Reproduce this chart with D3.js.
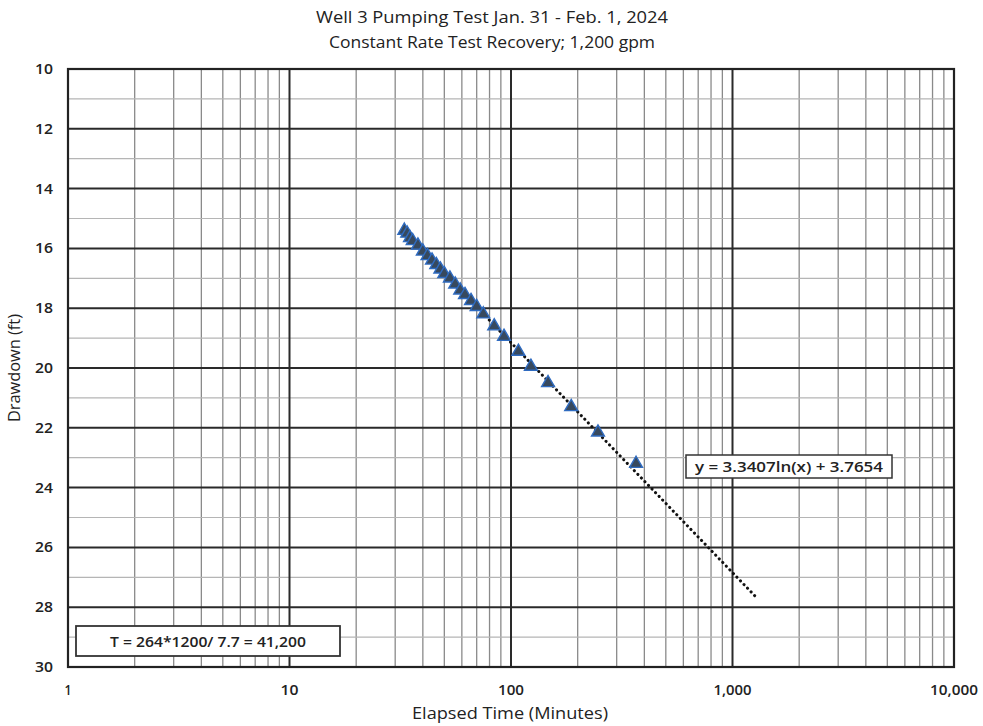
<!DOCTYPE html>
<html>
<head>
<meta charset="utf-8">
<script src="https://cdn.jsdelivr.net/npm/d3@7"></script>
<style>
  body { margin: 0; background: #fff; }
  text { font-family: "Open Sans", "Liberation Sans", sans-serif; fill: #222; }
</style>
</head>
<body>
<svg id="chart" width="983" height="726"></svg>
<script>
// recovery data, elapsed minutes vs drawdown (ft)
var times     = [33, 34, 35, 36, 38, 40, 42, 44, 46, 48, 50, 53, 56, 59, 62, 66, 70, 75, 84, 93, 108, 123, 147, 187, 247, 367];
var drawdowns = [15.4, 15.5, 15.65, 15.75, 15.9, 16.1, 16.25, 16.4, 16.55, 16.7, 16.85, 17.0, 17.2, 17.4, 17.55, 17.75, 17.95, 18.2, 18.6, 18.95, 19.45, 19.95, 20.5, 21.3, 22.15, 23.2];
var fitSlope = 3.3407, fitIntercept = 3.7654;
var fitRange = [33, 1300];
var xTicks = [1, 10, 100, 1000, 10000];
var yTicks = [10, 12, 14, 16, 18, 20, 22, 24, 26, 28, 30];
var titleLines = ["Well 3 Pumping Test Jan. 31 - Feb. 1, 2024", "Constant Rate Test Recovery; 1,200 gpm"];
var eqLabel = "y = 3.3407ln(x) + 3.7654";
var noteLabel = "T = 264*1200/ 7.7 = 41,200";

var svg = d3.select("#chart");
var pLeft = 68, pRight = 954, pTop = 69, pBottom = 667;

var x = d3.scaleLog().domain([1, 10000]).range([pLeft, pRight]);
var y = d3.scaleLinear().domain([10, 30]).range([pTop, pBottom]);

// squeeze text to a given width (mimics the narrow font of the original)
function fit(sel, w) {
  sel.attr("textLength", w).attr("lengthAdjust", "spacingAndGlyphs");
}

// minor vertical grid
var minorX = [];
for (var d = 1; d < 10000; d *= 10) {
  for (var k = 2; k <= 9; k++) minorX.push(d * k);
}
svg.append("g").selectAll("line").data(minorX).enter().append("line")
  .attr("x1", function(v) { return x(v); }).attr("x2", function(v) { return x(v); })
  .attr("y1", pTop).attr("y2", pBottom)
  .attr("stroke", "#8a8a8a").attr("stroke-width", 1.3);

// minor horizontal grid
var minorY = d3.range(11, 30, 2);
svg.append("g").selectAll("line").data(minorY).enter().append("line")
  .attr("x1", pLeft).attr("x2", pRight)
  .attr("y1", function(v) { return y(v); }).attr("y2", function(v) { return y(v); })
  .attr("stroke", "#b5b5b5").attr("stroke-width", 1.2);

// major grid
svg.append("g").selectAll("line").data(xTicks).enter().append("line")
  .attr("x1", function(v) { return x(v); }).attr("x2", function(v) { return x(v); })
  .attr("y1", pTop).attr("y2", pBottom)
  .attr("stroke", "#2a2a2a").attr("stroke-width", 2);
svg.append("g").selectAll("line").data(yTicks).enter().append("line")
  .attr("x1", pLeft).attr("x2", pRight)
  .attr("y1", function(v) { return y(v); }).attr("y2", function(v) { return y(v); })
  .attr("stroke", "#2a2a2a").attr("stroke-width", 2);

svg.append("rect").attr("x", pLeft).attr("y", pTop)
  .attr("width", pRight - pLeft).attr("height", pBottom - pTop)
  .attr("fill", "none").attr("stroke", "#222").attr("stroke-width", 2.2);

// axes labels
var fmt = d3.format(",");
svg.append("g").selectAll("text").data(xTicks).enter().append("text")
  .attr("x", function(v) { return x(v); }).attr("y", 695)
  .attr("text-anchor", "middle").attr("font-size", 15).attr("font-weight", 600)
  .attr("textLength", function(v) { return v < 10 ? 7 : v < 100 ? 18 : v < 1000 ? 26 : v < 10000 ? 38 : 48; })
  .attr("lengthAdjust", "spacingAndGlyphs")
  .text(function(v) { return fmt(v); });
svg.append("g").selectAll("text").data(yTicks).enter().append("text")
  .attr("x", 53).attr("y", function(v) { return y(v) + 5; })
  .attr("text-anchor", "end").attr("font-size", 15).attr("font-weight", 600)
  .attr("textLength", 18).attr("lengthAdjust", "spacingAndGlyphs")
  .text(function(v) { return v; });

svg.append("text").attr("x", 510).attr("y", 719).attr("text-anchor", "middle")
  .attr("font-size", 16).call(fit, 196).text("Elapsed Time (Minutes)");
svg.append("text").attr("transform", "translate(20," + ((pTop + pBottom) / 2) + ") rotate(-90)")
  .attr("text-anchor", "middle").attr("font-size", 16).call(fit, 108).text("Drawdown (ft)");

svg.append("g").selectAll("text").data(titleLines).enter().append("text")
  .attr("x", 492).attr("y", function(d, i) { return 23 + i * 25; })
  .attr("text-anchor", "middle").attr("font-size", 16)
  .attr("textLength", function(d, i) { return i === 0 ? 352 : 326; })
  .attr("lengthAdjust", "spacingAndGlyphs")
  .text(function(d) { return d; });

// trend line (dotted)
var fitPts = d3.range(0, 101).map(function(i) {
  var t = Math.exp(Math.log(fitRange[0]) + (Math.log(fitRange[1]) - Math.log(fitRange[0])) * i / 100);
  return [t, fitSlope * Math.log(t) + fitIntercept];
});
svg.append("path").datum(fitPts)
  .attr("d", d3.line().x(function(d) { return x(d[0]); }).y(function(d) { return y(d[1]); }))
  .attr("fill", "none").attr("stroke", "#111").attr("stroke-width", 3)
  .attr("stroke-dasharray", "0.1 5").attr("stroke-linecap", "round");

// data markers
var tri = d3.symbol().type(d3.symbolTriangle).size(72);
svg.append("g").selectAll("path").data(times).enter().append("path")
  .attr("d", tri)
  .attr("transform", function(t, i) { return "translate(" + x(t) + "," + y(drawdowns[i]) + ")"; })
  .attr("fill", "#37495e").attr("stroke", "#2f6bc0").attr("stroke-width", 1.4);

// equation label
var eq = svg.append("g").attr("transform", "translate(686,455)");
eq.append("rect").attr("width", 206).attr("height", 23)
  .attr("fill", "#fff").attr("stroke", "#333").attr("stroke-width", 1.5);
eq.append("text").attr("x", 103).attr("y", 16.5).attr("text-anchor", "middle")
  .attr("font-size", 14).attr("font-weight", 600).call(fit, 188).text(eqLabel);

// transmissivity note
var note = svg.append("g").attr("transform", "translate(76,626)");
note.append("rect").attr("width", 264).attr("height", 30)
  .attr("fill", "#fff").attr("stroke", "#333").attr("stroke-width", 1.8);
note.append("text").attr("x", 132).attr("y", 20.5).attr("text-anchor", "middle")
  .attr("font-size", 15).attr("font-weight", 600).call(fit, 196).text(noteLabel);
</script>
</body>
</html>
